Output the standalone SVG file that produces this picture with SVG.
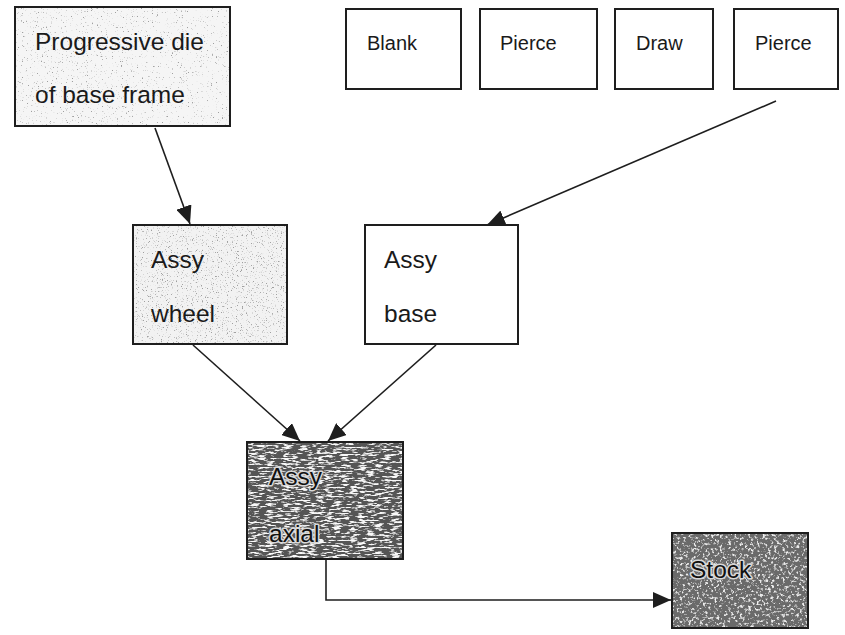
<svg xmlns="http://www.w3.org/2000/svg" width="845" height="635" viewBox="0 0 845 635">
  <style>
    .box { fill: none; stroke: #1e1e1e; stroke-width: 2; }
    .plain { fill: #ffffff; }
    .lbl { font-family: "Liberation Sans", Arial, sans-serif; fill: #1a1a1a; }
    .big { font-size: 24.5px; }
    .small { font-size: 20px; }
    .halo { fill: #111111; stroke: #d8d8d8; stroke-width: 3; paint-order: stroke; stroke-linejoin: round; }
    .wire { fill: none; stroke: #1e1e1e; stroke-width: 1.6; }
  </style>
  <defs>
    <marker id="head" viewBox="0 0 18 16" refX="18" refY="8" markerWidth="18" markerHeight="16" markerUnits="userSpaceOnUse" orient="auto">
      <path d="M0,0 L18,8 L0,16 Z" fill="#1e1e1e"/>
    </marker>
    <!-- light speckled fill -->
    <filter id="speckle" x="0" y="0" width="1" height="1">
      <feTurbulence type="fractalNoise" baseFrequency="0.8" numOctaves="2" seed="4" result="n"/>
      <feColorMatrix in="n" type="matrix" values="0 0 0 0 0.35  0 0 0 0 0.35  0 0 0 0 0.35  7 0 0 0 -4.6" result="dots"/>
      <feComposite in="dots" in2="SourceGraphic" operator="atop"/>
    </filter>
    <!-- denser speckle -->
    <filter id="speckle2" x="0" y="0" width="1" height="1">
      <feTurbulence type="fractalNoise" baseFrequency="0.8" numOctaves="2" seed="9" result="n"/>
      <feColorMatrix in="n" type="matrix" values="0 0 0 0 0.35  0 0 0 0 0.35  0 0 0 0 0.35  7 0 0 0 -4.3" result="dots"/>
      <feComposite in="dots" in2="SourceGraphic" operator="atop"/>
    </filter>
    <!-- dark streaky fill -->
    <filter id="grain" x="0" y="0" width="1" height="1">
      <feTurbulence type="fractalNoise" baseFrequency="0.12 0.55" numOctaves="3" seed="2" result="n"/>
      <feColorMatrix in="n" type="matrix" values="0 0 0 0 0.95  0 0 0 0 0.95  0 0 0 0 0.95  6 0 0 0 -3.0" result="dots"/>
      <feComposite in="dots" in2="SourceGraphic" operator="atop"/>
    </filter>
    <filter id="mottle" x="0" y="0" width="1" height="1">
      <feTurbulence type="fractalNoise" baseFrequency="0.35" numOctaves="3" seed="7" result="n"/>
      <feColorMatrix in="n" type="matrix" values="0 0 0 0 0.85  0 0 0 0 0.85  0 0 0 0 0.85  5 0 0 0 -2.7" result="dots"/>
      <feComposite in="dots" in2="SourceGraphic" operator="atop"/>
    </filter>
  </defs>

  <rect width="845" height="635" fill="#ffffff"/>

  <!-- connectors -->
  <g id="connectors">
    <line class="wire" x1="155" y1="128" x2="190" y2="224" marker-end="url(#head)"/>
    <line class="wire" x1="776" y1="101" x2="487" y2="225" marker-end="url(#head)"/>
    <line class="wire" x1="193" y1="345" x2="300" y2="441" marker-end="url(#head)"/>
    <line class="wire" x1="436" y1="345" x2="328" y2="441" marker-end="url(#head)"/>
    <polyline class="wire" points="326,560 326,600 671,600" marker-end="url(#head)"/>
  </g>

  <!-- die for the base frame -->
  <g id="progressive-die">
    <rect x="15" y="7" width="215" height="119" fill="#f5f5f5" filter="url(#speckle)"/>
    <rect class="box" x="15" y="7" width="215" height="119"/>
    <text class="lbl big" x="35" y="50">Progressive die</text>
    <text class="lbl big" x="35" y="103">of base frame</text>
  </g>

  <!-- stamping sequence -->
  <g id="blank">
    <rect class="box plain" x="346" y="9" width="115" height="80"/>
    <text class="lbl small" x="367" y="50">Blank</text>
  </g>
  <g id="pierce-1">
    <rect class="box plain" x="480" y="9" width="117" height="80"/>
    <text class="lbl small" x="500" y="50">Pierce</text>
  </g>
  <g id="draw">
    <rect class="box plain" x="615" y="9" width="98" height="80"/>
    <text class="lbl small" x="636" y="50">Draw</text>
  </g>
  <g id="pierce-2">
    <rect class="box plain" x="734" y="9" width="104" height="80"/>
    <text class="lbl small" x="755" y="50">Pierce</text>
  </g>

  <!-- sub-assemblies -->
  <g id="assy-wheel">
    <rect x="133" y="225" width="154" height="119" fill="#f2f2f2" filter="url(#speckle2)"/>
    <rect class="box" x="133" y="225" width="154" height="119"/>
    <text class="lbl big" x="151" y="268">Assy</text>
    <text class="lbl big" x="151" y="322">wheel</text>
  </g>
  <g id="assy-base">
    <rect class="box plain" x="365" y="225" width="153" height="119"/>
    <text class="lbl big" x="384" y="268">Assy</text>
    <text class="lbl big" x="384" y="322">base</text>
  </g>

  <g id="assy-axial">
    <rect x="247" y="442" width="156" height="117" fill="#555555" filter="url(#grain)"/>
    <rect class="box" x="247" y="442" width="156" height="117"/>
    <text class="lbl big halo" x="269" y="485">Assy</text>
    <text class="lbl big halo" x="269" y="542">axial</text>
  </g>

  <g id="stock">
    <rect x="672" y="533" width="136" height="95" fill="#6a6a6a" filter="url(#mottle)"/>
    <rect class="box" x="672" y="533" width="136" height="95"/>
    <text class="lbl big halo" x="690" y="578">Stock</text>
  </g>
</svg>
